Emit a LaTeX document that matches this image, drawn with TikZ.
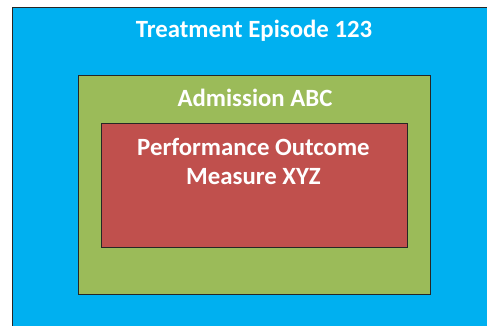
\documentclass[tikz,border=0pt]{standalone}
\usepackage{fontspec}
\setmainfont{Carlito}
\definecolor{episodeblue}{HTML}{00B0F0}
\definecolor{admissiongreen}{HTML}{9BBB59}
\definecolor{measurered}{HTML}{C0504D}
\tikzset{
    box/.style = {draw = black!85, line width = 1pt},
    label/.style = {text = white, font = \fontsize{24.8}{29}\selectfont\bfseries, anchor = base, align = center}
}
\begin{document}
\begin{tikzpicture}[x = 1pt, y = 1pt]
        \useasboundingbox (0, 0) rectangle (487, 325);
        \clip (0, 0) rectangle (487, 325);
        % nested boxes
        \draw [box, fill = episodeblue] (12, 318) rectangle (495, -10);
        \draw [box, fill = admissiongreen] (78, 250) rectangle (430, 31);
        \draw [box, fill = measurered] (101, 202) rectangle (407, 78);
        % titles
        \node [label] (episode) at (254, 288) {Treatment Episode 123};
        \node [label] (admission) at (255, 219) {Admission ABC};
        \node [label] (measure) at (253.5, 141) {Performance Outcome\\Measure XYZ};
    \end{tikzpicture}
\end{document}
